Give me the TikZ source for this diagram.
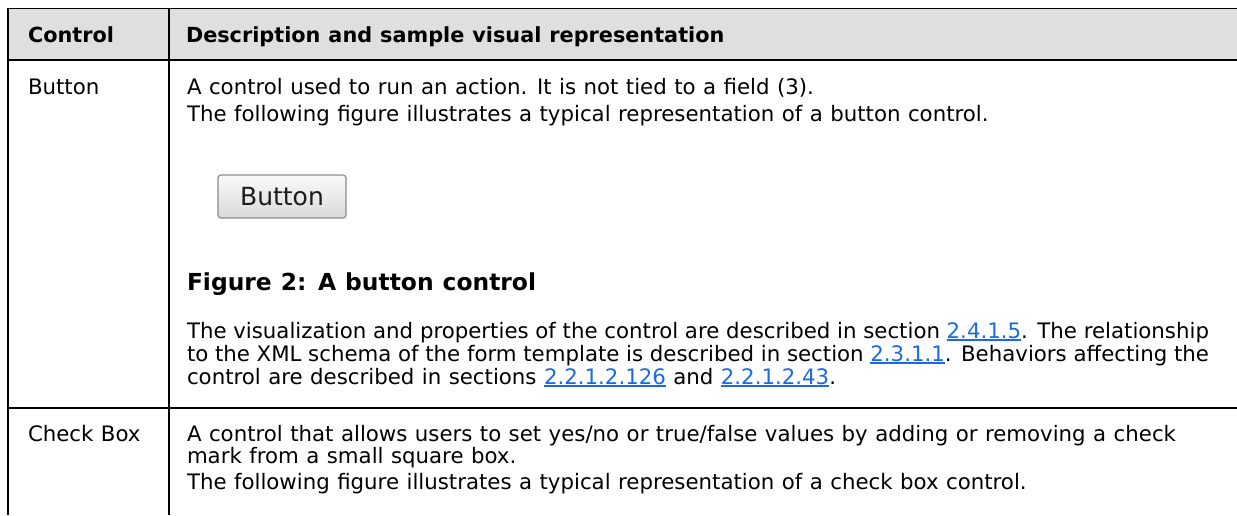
\documentclass[tikz,border=0pt]{standalone}
\usepackage{fontspec}
\setmainfont{DejaVu Sans}[WordSpace=1.1]
\definecolor{hdr}{HTML}{DFDFDF}
\definecolor{lnk}{HTML}{1A6AE6}
\definecolor{btnborder}{HTML}{8C8C8C}
\definecolor{btntop}{HTML}{FAFAFA}
\definecolor{btnbot}{HTML}{DADADA}
\definecolor{btntext}{HTML}{1C1C1C}
\newcommand{\lk}[1]{\textcolor{lnk}{\setbox0\hbox{#1}\rlap{\rule[-2.6pt]{\wd0}{1.3pt}}\box0}}
\begin{document}
\begin{tikzpicture}[x=1pt,y=-1pt,
  txt/.style={anchor=base west, inner sep=0pt, outer sep=0pt, font=\fontsize{21.3}{23}\selectfont},
  hd/.style={anchor=base west, inner sep=0pt, outer sep=0pt, font=\fontsize{20.8}{23}\selectfont\bfseries},
  figcap/.style={anchor=base west, inner sep=0pt, outer sep=0pt, font=\fontsize{23.4}{26}\selectfont\bfseries},
  rulethick/.style={line width=2.3pt, black},
  rulethin/.style={line width=1.5pt, black},
  btnbox/.style={rounded corners=3pt, draw=btnborder, line width=1.2pt, top color=btntop, bottom color=btnbot},
]
\useasboundingbox (0,0) rectangle (1237,515);
\fill[white] (0,0) rectangle (1237,515);
% header band
\fill[hdr] (8,8) rectangle (1237,60);
% table rules
\draw[rulethin] (8,8.5) -- (1237,8.5);
\draw[rulethick] (8,60) -- (1237,60);
\draw[rulethick] (8,408) -- (1237,408);
\draw[rulethick] (8,7.8) -- (8,515);
\draw[rulethick] (169,7.8) -- (169,515);
% header
\node[hd] (hctl) at (28,42) {Control};
\node[hd] (hdesc) at (186,42) {Description and sample visual representation};
% Button row
\node[txt] (cbtn) at (28,94) {Button};
\node[txt] (b1) at (187,94) {A control used to run an action. It is not tied to a field (3).};
\node[txt] (b2) at (187,121) {The following figure illustrates a typical representation of a button control.};
\node[btnbox, minimum width=128pt, minimum height=43pt, inner sep=0pt,
      font=\fontsize{25}{27}\selectfont, text=btntext] (btn) at (282,196.5) {Button};
\node[figcap] (fig) at (187,290) {Figure 2: A button control};
\node[txt] (b5) at (187,338) {\makebox[1022pt][s]{The visualization and properties of the control are described in section \lk{2.4.1.5}. The relationship}};
\node[txt] (b6) at (187,361) {\makebox[1022pt][s]{to the XML schema of the form template is described in section \lk{2.3.1.1}. Behaviors affecting the}};
\node[txt] (b7) at (187,384) {control are described in sections \lk{2.2.1.2.126} and \lk{2.2.1.2.43}.};
% Check Box row
\node[txt] (ccb) at (28,441) {Check Box};
\node[txt] (c1) at (187,441) {A control that allows users to set yes/no or true/false values by adding or removing a check};
\node[txt] (c2) at (187,463) {mark from a small square box.};
\node[txt] (c3) at (187,489) {The following figure illustrates a typical representation of a check box control.};
\end{tikzpicture}
\end{document}
